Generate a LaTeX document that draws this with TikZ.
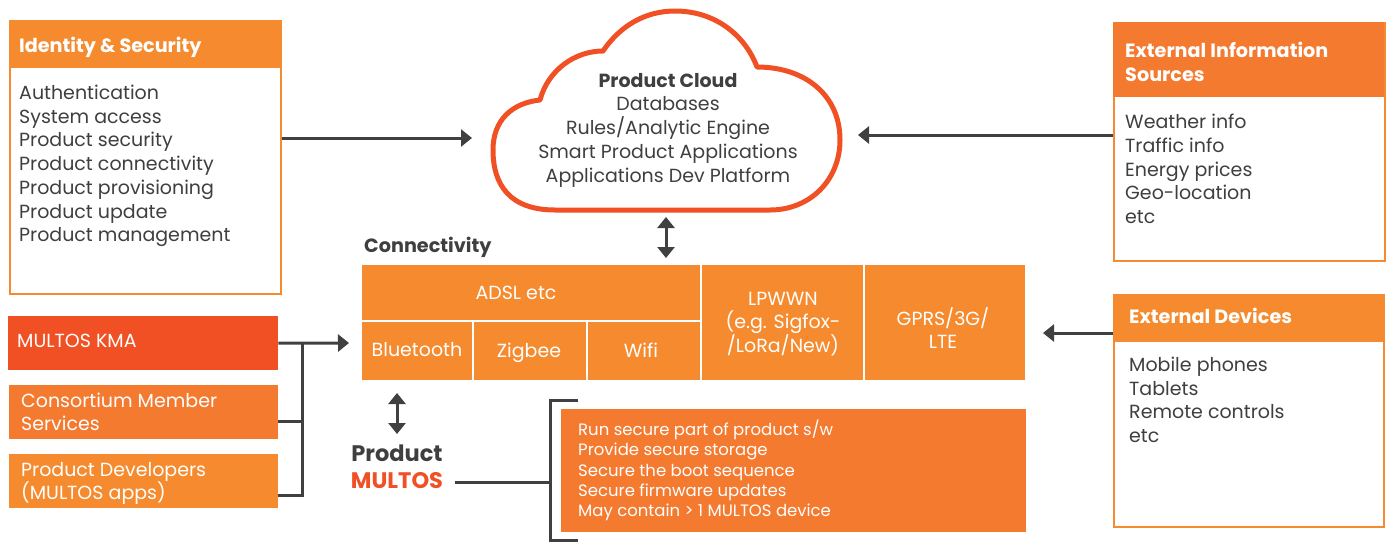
\documentclass[tikz,border=0pt]{standalone}
\usepackage{fontspec}
\setmainfont{Poppins}
\usetikzlibrary{arrows.meta}
\definecolor{orA}{HTML}{F58B2E}
\definecolor{orB}{HTML}{F47A30}
\definecolor{redO}{HTML}{F05023}
\definecolor{darkg}{HTML}{404040}
\definecolor{textg}{HTML}{3F3F3F}
\tikzset{
  panel/.style={draw=orA, line width=1.5pt, fill=white, anchor=north west, inner sep=0pt},
  header/.style={fill=orA, anchor=north west, inner sep=0pt},
  block/.style={fill=orA, anchor=north west, inner sep=0pt, text=white, font=\fontsize{19}{23}\selectfont, align=center},
  oneline/.style={text height=13.5pt, text depth=4.5pt},
  btext/.style={anchor=center, inner sep=0pt, text=white, font=\fontsize{19}{23}\selectfont, oneline},
  body/.style={anchor=base west, inner sep=0pt, text=textg, align=left, font=\fontsize{19}{23.7}\selectfont},
  htext/.style={anchor=base west, inner sep=0pt, text=white, align=left, font=\bfseries\fontsize{19.2}{24}\selectfont},
  wtext/.style={anchor=base west, inner sep=0pt, text=white, align=left, font=\fontsize{19}{23.5}\selectfont},
  arr/.style={draw=darkg, line width=3pt, -{Triangle[length=11pt,width=17pt]}},
  darr/.style={draw=darkg, line width=3pt, {Triangle[length=11pt,width=17pt]}-{Triangle[length=11pt,width=17pt]}},
  ln/.style={draw=darkg, line width=3pt},
}
\begin{document}
\begin{tikzpicture}[x=1pt,y=-1pt]
\useasboundingbox (0,0) rectangle (1390,542);
% Identity & Security
\node[panel, minimum width=271pt, minimum height=273pt] (idsec) at (9,20) {};
\node[header, minimum width=271pt, minimum height=48pt] (idsech) at (9,20) {};
\node[htext] (idsect) at (19,52.5) {Identity \& Security};
\node[body] (idsecb) at (19,241.7) {Authentication\\System access\\Product security\\Product connectivity\\Product provisioning\\Product update\\Product management};
% Cloud
\draw[redO, line width=5pt, line join=round]
  (555,210) .. controls (510,210) and (493,185) .. (493,150)
  .. controls (493,120) and (512,103) .. (540,100)
  .. controls (548,70) and (575,51) .. (603,51)
  .. controls (620,26) and (645,11) .. (675,11)
  .. controls (715,11) and (745,35) .. (757,67)
  .. controls (805,67) and (840,95) .. (840,140)
  .. controls (840,180) and (810,210) .. (770,210) -- cycle;
\node[anchor=base, inner sep=0pt, text=textg, align=center, font=\fontsize{19}{23.7}\selectfont] (cloud) at (668,182)
  {{\bfseries Product Cloud}\\Databases\\Rules/Analytic Engine\\Smart Product Applications\\Applications Dev Platform};
\coordinate (cloudL) at (472,138);
\coordinate (cloudR) at (858,135);
\coordinate (cloudB) at (666,217);
\coordinate (connT) at (666,258);
% External Information Sources
\node[panel, minimum width=271pt, minimum height=238pt] (extinfo) at (1113,22) {};
\node[header, fill=orB, minimum width=271pt, minimum height=75pt] (extinfoh) at (1113,22) {};
\node[htext] (extinfot) at (1125,81.5) {External Information\\Sources};
\node[body] (extinfob) at (1125,223.5) {Weather info\\Traffic info\\Energy prices\\Geo-location\\etc};
% arrows to cloud
\draw[arr] (idsec.east |- cloudL) -- (cloudL);
\draw[arr] (extinfo.west |- cloudR) -- (cloudR);
\draw[darr] (cloudB) -- (connT);
% Connectivity
\node[anchor=base west, inner sep=0pt, text=textg, font=\bfseries\fontsize{19.2}{20}\selectfont] (conntitle) at (364,252.5) {Connectivity};
\node[block, minimum width=338pt, minimum height=55pt] (adsl) at (362,265) {};
\node[btext] (adslt) at (516,295) {ADSL etc};
\node[block, minimum width=110pt, minimum height=58pt] (bt) at (362,322) {};
\node[btext] (btt) at (417,352) {Bluetooth};
\node[block, minimum width=112pt, minimum height=58pt] (zig) at (474,322) {};
\node[btext] (zigt) at (529,353) {Zigbee};
\node[block, minimum width=112pt, minimum height=58pt] (wifi) at (588,322) {};
\node[btext] (wifit) at (641,353) {Wifi};
\node[block, minimum width=161pt, minimum height=115pt] (lpwwn) at (702,265) {};
\node[anchor=center, inner sep=0pt, text=white, align=center, font=\fontsize{19}{23}\selectfont] (lpwwnt) at (783,324) {LPWWN\\(e.g. Sigfox-\\/LoRa/New)};
\node[block, minimum width=160pt, minimum height=115pt] (gprs) at (865,265) {};
\node[anchor=center, inner sep=0pt, text=white, align=center, font=\fontsize{19}{23}\selectfont] (gprst) at (943,328) {GPRS/3G/\\LTE};
% External Devices
\node[panel, minimum width=270pt, minimum height=232pt] (extdev) at (1113,294) {};
\node[header, minimum width=270pt, minimum height=48pt] (extdevh) at (1113,294) {};
\node[htext] (extdevt) at (1129,323.5) {External Devices};
\node[body] (extdevb) at (1129,442.5) {Mobile phones\\Tablets\\Remote controls\\etc};
\coordinate (gprsR) at (1043,333);
\draw[arr] (extdev.west |- gprsR) -- (gprsR);
% Left stack
\node[fill=redO, anchor=north west, inner sep=0pt, minimum width=270pt, minimum height=54pt] (kma) at (8,316) {};
\node[wtext] (kmat) at (17,347.5) {MULTOS KMA};
\node[fill=orB, anchor=north west, inner sep=0pt, minimum width=269pt, minimum height=54pt] (cons) at (9,385) {};
\node[wtext] (const) at (21,430.5) {Consortium Member\\Services};
\node[fill=orA, anchor=north west, inner sep=0pt, minimum width=269pt, minimum height=54pt] (dev) at (9,454) {};
\node[wtext] (devt) at (21,499.5) {Product Developers\\(MULTOS apps)};
\coordinate (kmaT) at (349,343);
\coordinate (jtop) at (302,343);
\draw[arr] (kma.east) -- (kmaT);
\draw[ln] ([yshift=-9pt]cons.east) -- ([yshift=-9pt]cons.east -| jtop);
\draw[ln, line join=miter] ([yshift=-14pt]dev.east) -| (jtop);
% Product MULTOS
\node[anchor=base, inner sep=0pt, align=center, font=\bfseries\fontsize{22.5}{27}\selectfont] (pm) at (397,488)
  {\textcolor{textg}{Product}\\\textcolor{redO}{MULTOS}};
\coordinate (pmT) at (397,393);
\coordinate (pmB) at (397,434);
\draw[darr] (pmT) -- (pmB);
\coordinate (pmR) at (455,482);
\coordinate (brM) at (550,482);
\coordinate (brT) at (578,400);
\coordinate (brB) at (578,540);
\draw[ln] (pmR) -- (brM);
\draw[ln, line join=miter] (brT) -- (brT -| brM) -- (brB -| brM) -- (brB);
\node[fill=orB, anchor=north west, inner sep=0pt, minimum width=465pt, minimum height=123pt] (secure) at (561,409) {};
\node[anchor=base west, inner sep=0pt, text=white, align=left, font=\fontsize{16.5}{20.25}\selectfont] (securet) at (578,516.5)
  {Run secure part of product s/w\\Provide secure storage\\Secure the boot sequence\\Secure firmware updates\\May contain > 1 MULTOS device};
\end{tikzpicture}
\end{document}
